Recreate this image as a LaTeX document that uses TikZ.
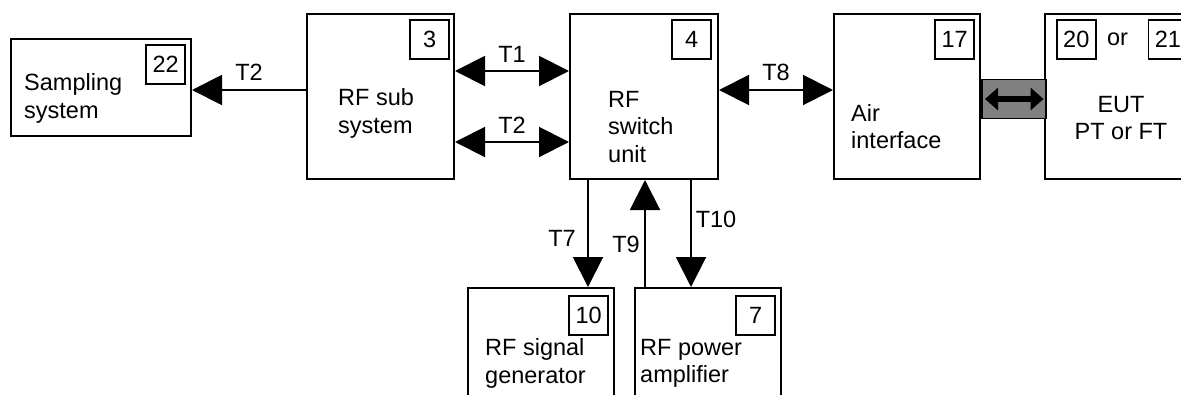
\documentclass[tikz,border=0pt]{standalone}
\usepackage{fontspec}
\setmainfont{Liberation Sans}
\usetikzlibrary{arrows.meta,positioning,calc}

\begin{document}
\begin{tikzpicture}[
  x=1pt, y=-1pt,
  font=\fontsize{23.5}{27.5}\selectfont,
  box/.style={draw, line width=2pt, anchor=north west, inner sep=0pt, minimum height=165pt},
  tag/.style={draw, line width=1.6pt, inner sep=0pt, minimum size=39pt},
  txt/.style={anchor=west, align=left, inner sep=0pt},
  lbl/.style={inner sep=0pt},
  arr/.style={-{Triangle[length=30pt,width=30pt]}, line width=2pt},
  darr/.style={{Triangle[length=30pt,width=30pt]}-{Triangle[length=30pt,width=30pt]}, line width=2pt}
]
\clip (0,0) rectangle (1181,394);
\fill[white] (0,0) rectangle (1181,394);
% blocks
\node[box, minimum width=180pt, minimum height=97pt] (samp) at (10,38) {};
\node[box, minimum width=147pt] (rfsub) at (306,13) {};
\node[box, minimum width=148pt] (switch) at (569,13) {};
\node[box, minimum width=146pt] (air) at (833,13) {};
\node[box, minimum width=146pt] (eut) at (1044,13) {};
\node[box, minimum width=146pt] (gen) at (467,287) {};
\node[box, minimum width=146pt] (amp) at (634,287) {};
% reference numbers
\node[tag, below left=6pt and 6pt of samp.north east] (t22) {22};
\node[tag, below left=6pt and 5pt of rfsub.north east] (t3) {3};
\node[tag, below left=6pt and 7pt of switch.north east] (t4) {4};
\node[tag, below left=6pt and 6pt of air.north east] (t17) {17};
\node[tag, below right=6pt and 12pt of eut.north west] (t20) {20};
\node[tag, right=51pt of t20] (t21) {21};
\node[lbl] (or) at ($(t20)!0.45!(t21)$) {or};
\node[tag, below left=8pt and 6pt of gen.north east] (t10) {10};
\node[tag, below left=8pt and 6pt of amp.north east] (t7) {7};
% block texts
\node[txt] (samp-txt) at (24,98.5) {Sampling\\system};
\node[txt] (rfsub-txt) at (338,113.5) {RF sub\\system};
\node[txt] (switch-txt) at (608,127) {RF\\switch\\unit};
\node[txt] (air-txt) at (851,126.5) {Air\\interface};
\node[lbl, align=center] (eut-txt) at (1121,118) {EUT\\PT or FT};
\node[txt] (gen-txt) at (485,363.5) {RF signal\\generator};
\node[txt] (amp-txt) at (640,363.5) {RF power\\amplifier};
% air link
\node[draw, fill=black!50, line width=1.5pt, inner sep=0pt, minimum width=64pt, minimum height=39pt, anchor=west] (band) at (air.east |- 0,99) {};
\draw[{Triangle[length=13pt,width=22pt]}-{Triangle[length=13pt,width=22pt]}, line width=6pt]
  ([xshift=4pt]band.west) -- ([xshift=-3pt]band.east);
% connectors
\draw[arr] (rfsub.west |- 0,90) -- (samp.east |- 0,90) node[lbl, midway, above=9pt] (l-t2a) {T2};
\draw[darr] (rfsub.east |- 0,71) -- (switch.west |- 0,71) node[lbl, midway, above=8pt] (l-t1) {T1};
\draw[darr] (rfsub.east |- 0,142) -- (switch.west |- 0,142) node[lbl, midway, above=8pt] (l-t2b) {T2};
\draw[darr] (switch.east |- 0,90) -- (air.west |- 0,90) node[lbl, midway, above=8pt] (l-t8) {T8};
\draw[arr] (switch.south -| 588,0) -- (gen.north -| 588,0);
\draw[arr] (amp.north -| 645,0) -- (switch.south -| 645,0);
\draw[arr] (switch.south -| 691,0) -- (amp.north -| 691,0);
\node[lbl] (l-t7) at (562,238) {T7};
\node[lbl] (l-t9) at (626,244) {T9};
\node[lbl] (l-t10) at (716,219) {T10};
\end{tikzpicture}
\end{document}
